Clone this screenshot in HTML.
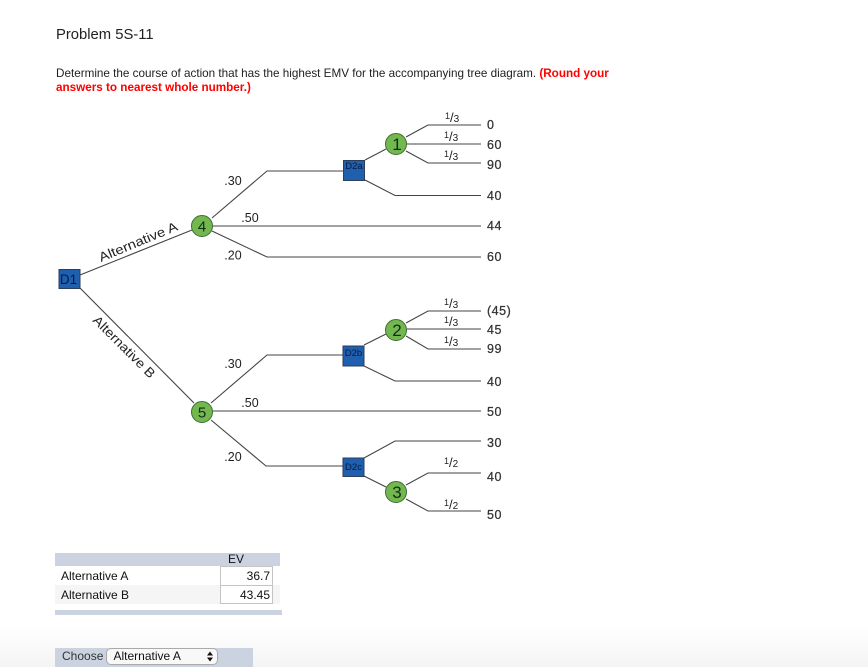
<!DOCTYPE html>
<html><head><meta charset="utf-8"><style>
html,body{margin:0;padding:0;background:#fff}
#p{position:relative;width:868px;height:667px;overflow:hidden;background:#fff;font-family:"Liberation Sans",sans-serif;color:#111}
.a{position:absolute;white-space:nowrap}
</style></head><body><div id="p">
<div class="a" style="left:0;top:625px;width:868px;height:42px;background:linear-gradient(#fff,#f4f4f4)"></div>
<div class="a" style="left:56px;top:26px;font-size:14.8px;line-height:18px;color:#222">Problem 5S-11</div>
<div class="a" style="left:56px;top:67px;font-size:11.7px;line-height:14px;color:#222">Determine the course of action that has the highest EMV for the accompanying tree diagram. <b style="color:#f00">(Round your</b></div>
<div class="a" style="left:56px;top:81px;font-size:11.7px;line-height:14px;color:#f00;font-weight:bold">answers to nearest whole number.)</div>

<svg class="a" style="left:0;top:0;filter:blur(.3px)" width="868" height="667" viewBox="0 0 868 667" font-family="Liberation Sans, sans-serif">
<g fill="none" stroke="#444" stroke-width="1.1">
<path d="M80 275L192 230M80 288L194 403"/>
<path d="M212 218L267 171H343M213 226H481M212 231L267 257H481"/>
<path d="M365 160L386 149M406 137L428 125H481M407 144H481M406 151L428 163H481M365 180L395 195.500H481"/>
<path d="M211 403L267 355H343M213 411H481M211 420L266 466H343"/>
<path d="M364 345L386 334M406 323L428 311H481M407 329H481M406 336L428 349H481M364 366L395 381H481"/>
<path d="M364 458L395 441H481M364 476L386 487M406 485L428 473H481M406 499L428 511H481"/>
</g>
<g fill="#1f5fae" stroke="#2b3e5c" stroke-width="1">
<rect x="59" y="269.500" width="21" height="19"/>
<rect x="343.500" y="160.500" width="21" height="20"/>
<rect x="343" y="346" width="21" height="20"/>
<rect x="343" y="458" width="21" height="18.500"/>
</g>
<g fill="#72b84f" stroke="#3f6b33" stroke-width="1">
<circle cx="202" cy="226" r="10.500"/><circle cx="202" cy="412" r="10.500"/>
<circle cx="396" cy="144" r="10.500"/><circle cx="396" cy="330" r="10.500"/><circle cx="396" cy="492" r="10.500"/>
</g>
<g fill="#142a1c" text-anchor="middle">
<text x="202" y="231.500" font-size="15">4</text><text x="202" y="417.500" font-size="15">5</text>
<text x="397" y="150" font-size="17">1</text><text x="397" y="336" font-size="17">2</text><text x="397" y="498" font-size="17">3</text>
</g>
<g fill="#041c44" font-size="13.500" text-anchor="middle"><text x="68.500" y="284">D1</text></g>
<g fill="#041c44" font-size="9.500" text-anchor="middle">
<text x="354" y="169">D2a</text><text x="353.500" y="356">D2b</text><text x="353.500" y="470">D2c</text>
</g>
<g fill="#222" font-size="13">
<text transform="translate(101 262) rotate(-22.500)" textLength="84" lengthAdjust="spacingAndGlyphs">Alternative A</text>
<text transform="translate(92 321) rotate(45)" textLength="82" lengthAdjust="spacingAndGlyphs">Alternative B</text>
</g>
<g fill="#222" font-size="12.500" text-anchor="middle">
<text x="233" y="185">.30</text><text x="250" y="222">.50</text><text x="233" y="259.500">.20</text>
<text x="233" y="368">.30</text><text x="250" y="407">.50</text><text x="233" y="461">.20</text>
</g>
<g fill="#333" font-size="12.500" letter-spacing=".5" style="stroke:#333;stroke-width:.25">
<text x="487" y="129">0</text><text x="487" y="149">60</text><text x="487" y="169">90</text>
<text x="487" y="200">40</text><text x="487" y="230">44</text><text x="487" y="261">60</text>
<text x="487" y="315">(45)</text><text x="487" y="334">45</text><text x="487" y="353">99</text>
<text x="487" y="386">40</text><text x="487" y="416">50</text><text x="487" y="447">30</text>
<text x="487" y="481">40</text><text x="487" y="519">50</text>
</g>
<g fill="#222" font-size="13">
<text x="445" y="122"><tspan font-size="9" dy="-3">1</tspan><tspan dy="3">/</tspan><tspan font-size="10">3</tspan></text>
<text x="444" y="141"><tspan font-size="9" dy="-3">1</tspan><tspan dy="3">/</tspan><tspan font-size="10">3</tspan></text>
<text x="444" y="160"><tspan font-size="9" dy="-3">1</tspan><tspan dy="3">/</tspan><tspan font-size="10">3</tspan></text>
<text x="444" y="308"><tspan font-size="9" dy="-3">1</tspan><tspan dy="3">/</tspan><tspan font-size="10">3</tspan></text>
<text x="444" y="326"><tspan font-size="9" dy="-3">1</tspan><tspan dy="3">/</tspan><tspan font-size="10">3</tspan></text>
<text x="444" y="346"><tspan font-size="9" dy="-3">1</tspan><tspan dy="3">/</tspan><tspan font-size="10">3</tspan></text>
<text x="444" y="467"><tspan font-size="9" dy="-3">1</tspan><tspan dy="3">/</tspan><tspan font-size="10">2</tspan></text>
<text x="444" y="509"><tspan font-size="9" dy="-3">1</tspan><tspan dy="3">/</tspan><tspan font-size="10">2</tspan></text>
</g>
</svg>

<div class="a" style="left:55px;top:553px;width:225px;height:13px;background:#ccd3e0"></div>
<div class="a" style="left:228px;top:552px;font-size:12px;line-height:15px">EV</div>
<div class="a" style="left:55px;top:585px;width:225px;height:19px;background:#f5f5f5"></div>
<div class="a" style="left:61px;top:569px;font-size:12px;line-height:14px">Alternative A</div>
<div class="a" style="left:61px;top:588px;font-size:12px;line-height:14px">Alternative B</div>
<div class="a" style="left:220px;top:566px;width:53px;height:38px;box-sizing:border-box;border:1px solid #c4c4c4;background:#fff"></div>
<div class="a" style="left:220px;top:585px;width:53px;height:1px;background:#c4c4c4"></div>
<div class="a" style="left:220px;top:569px;width:50px;text-align:right;font-size:12px;line-height:14px">36.7</div>
<div class="a" style="left:220px;top:588px;width:50px;text-align:right;font-size:12px;line-height:14px">43.45</div>
<div class="a" style="left:55px;top:610px;width:227px;height:5px;background:#ccd3e0"></div>

<div class="a" style="left:55px;top:648px;width:198px;height:19px;background:#ccd3e0"></div>
<div class="a" style="left:62px;top:649px;font-size:12px;line-height:14px;color:#333">Choose</div>
<div class="a" style="left:106px;top:648px;width:112px;height:17px;box-sizing:border-box;border:1px solid #aaa;border-radius:5px;background:#f8f8f8"></div>
<div class="a" style="left:113.500px;top:649px;font-size:12px;line-height:14px">Alternative A</div>
<svg class="a" style="left:206px;top:651px" width="8" height="11" viewBox="0 0 8 11"><path d="M4 0.500L7 4.500H1ZM4 10.500L1 6.500H7Z" fill="#111"/></svg>
</div></body></html>
